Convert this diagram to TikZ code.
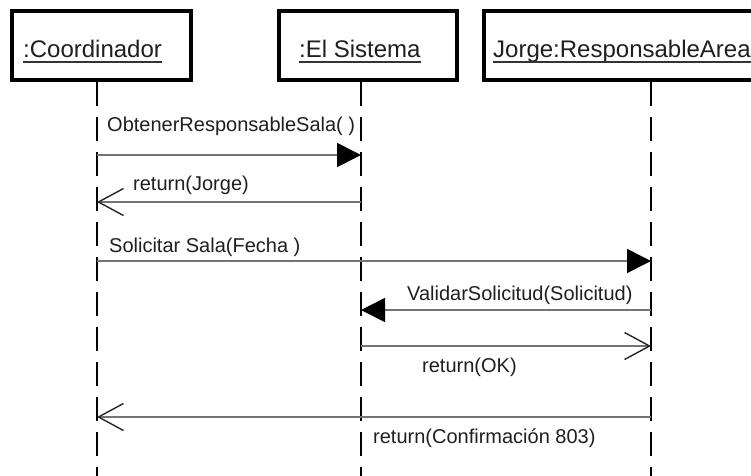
\documentclass[tikz,border=0pt]{standalone}
\usepackage{fontspec}
\setmainfont{Liberation Sans}
\usetikzlibrary{arrows.meta}
\begin{document}
\begin{tikzpicture}[x=1pt,y=-1pt,
  objbox/.style={draw=black,line width=4pt,fill=white,minimum height=69pt,inner sep=0pt},
  headtxt/.style={anchor=base west,inner sep=0pt,text=black!88,font=\fontsize{24}{28}\selectfont},
  ul/.style={line width=1.8pt,black!80},
  msgtxt/.style={anchor=base west,inner sep=0pt,text=black!88,font=\fontsize{20}{24}\selectfont},
  lifeline/.style={line width=2pt,black,dash pattern=on 24pt off 11pt},
  call/.style={line width=1.6pt,black!55,-{Triangle[length=24pt,width=24pt,black]}},
  ret/.style={line width=1.6pt,black!55,-{Straight Barb[length=25pt,width=27pt,line width=1.4pt,black!85]}}
]
\useasboundingbox (0,0) rectangle (751,475);
\clip (0,0) rectangle (751,475);
\fill[white] (0,0) rectangle (751,475);

% object boxes
\node[objbox,minimum width=179pt] (b1) at (101.5,45.5) {};
\node[objbox,minimum width=178pt] (b2) at (368,45.5) {};
\node[objbox,minimum width=300pt] (b3) at (634,45.5) {};

% header texts
\node[headtxt] (t1) at (23,57) {:Coordinador};
\node[headtxt] (t2) at (299,57) {:El Sistema};
\node[headtxt] (t3) at (493,57) {Jorge:ResponsableArea};
\draw[ul] ([yshift=-5pt]t1.base west) -- ([yshift=-5pt]t1.base east);
\draw[ul] ([yshift=-5pt]t2.base west) -- ([yshift=-5pt]t2.base east);
\draw[ul] ([yshift=-5pt]t3.base west) -- ([yshift=-5pt]t3.base east);

% lifelines
\coordinate (l1t) at (97,82);  \coordinate (l1b) at (97,480);
\coordinate (l2t) at (361,82); \coordinate (l2b) at (361,480);
\coordinate (l3t) at (651,82); \coordinate (l3b) at (651,480);
\draw[lifeline] (l1t) -- (l1b);
\draw[lifeline] (l2t) -- (l2b);
\draw[lifeline] (l3t) -- (l3b);

% message end points
\coordinate (m1a) at (97,155);  \coordinate (m1b) at (361,155);
\coordinate (m2a) at (361,202); \coordinate (m2b) at (97,202);
\coordinate (m3a) at (97,261);  \coordinate (m3b) at (651,261);
\coordinate (m4a) at (651,310); \coordinate (m4b) at (361,310);
\coordinate (m5a) at (361,346); \coordinate (m5b) at (651,346);
\coordinate (m6a) at (651,417); \coordinate (m6b) at (97,417);

\draw[call] (m1a) -- (m1b);
\draw[ret]  (m2a) -- (m2b);
\draw[call] (m3a) -- (m3b);
\draw[call] (m4a) -- (m4b);
\draw[ret]  (m5a) -- (m5b);
\draw[ret]  (m6a) -- (m6b);

% message labels
\node[msgtxt] (x1) at (107,131) {ObtenerResponsableSala( )};
\node[msgtxt] (x2) at (133,190) {return(Jorge)};
\node[msgtxt] (x3) at (109,252) {Solicitar Sala(Fecha )};
\node[msgtxt] (x4) at (407,300) {ValidarSolicitud(Solicitud)};
\node[msgtxt] (x5) at (422,372) {return(OK)};
\node[msgtxt] (x6) at (373,443) {return(Confirmación 803)};
\end{tikzpicture}
\end{document}
